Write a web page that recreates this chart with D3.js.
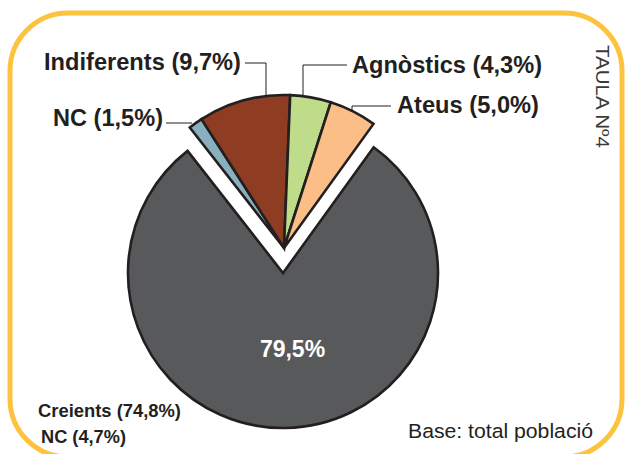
<!DOCTYPE html>
<html><head><meta charset="utf-8">
<script src="https://cdn.jsdelivr.net/npm/d3@7"></script>
<style>body{margin:0;background:#fff}svg{display:block}text{font-family:"Liberation Sans",Arial,Helvetica,sans-serif}</style>
</head><body><svg id="c" width="625" height="454"></svg>
<script>
const categories = ["NC", "Indiferents", "Agnòstics", "Ateus", "Creients"];
const values = [1.5, 9.7, 4.3, 5.0, 79.5];
const labels = ["NC (1,5%)", "Indiferents (9,7%)", "Agnòstics (4,3%)", "Ateus (5,0%)", "79,5%"];
const colors = ["#8aafbf", "#8e3c22", "#bfdc8a", "#fbbe87", "#58595b"];
const subLabels = ["Creients (74,8%)", "NC (4,7%)"];
const baseNote = "Base: total població";
const tableTag = "TAULA Nº4";

const svg = d3.select("#c");
const W = 625, H = 454;
const ink = "#231f20";

// frame
svg.append("rect").attr("x", 10).attr("y", 13).attr("width", 612).attr("height", 444)
  .attr("rx", 58).attr("ry", 58).attr("fill", "none").attr("stroke", "#fdc33f").attr("stroke-width", 5);

const start = -38 * Math.PI / 180;
const pie = d3.pie().sort(null).value(d => d).startAngle(start).endAngle(start + 2 * Math.PI);
const arcsData = pie(values);
const smallC = [284, 248], bigC = [283, 273];
const rSmall = 153, rBig = 155;
const arcS = d3.arc().innerRadius(0).outerRadius(rSmall);
const arcB = d3.arc().innerRadius(0).outerRadius(rBig);

arcsData.forEach((d, i) => {
  const big = i === 4;
  const c = big ? bigC : smallC;
  svg.append("path").attr("transform", `translate(${c[0]},${c[1]})`)
    .attr("d", (big ? arcB : arcS)(d)).attr("fill", colors[i])
    .attr("stroke", ink).attr("stroke-width", 2.6).attr("stroke-linejoin", "miter");
});

// big label
const cen = arcB.centroid(arcsData[4]);
svg.append("text").attr("x", bigC[0] + cen[0] + 8).attr("y", bigC[1] + cen[1] + 7)
  .attr("text-anchor", "middle").attr("font-weight", "bold").attr("font-size", 23)
  .attr("fill", "#fff").text(labels[4]);

// leaders
function arcY(x) { return smallC[1] - Math.sqrt(rSmall * rSmall - (x - smallC[0]) ** 2); }
const leaders = [
  [[166, 123], [192, 123]],
  [[245, 63], [266, 63], [266, arcY(266)]],
  [[347, 65], [303, 65], [303, arcY(303)]],
  [[391, 106], [352, 106], [352, arcY(352)]]
];
leaders.forEach(p => svg.append("path").attr("d", d3.line()(p)).attr("fill", "none")
  .attr("stroke", ink).attr("stroke-width", 1));

const labelPos = [
  {x: 53, y: 126, w: 110, s: 23},
  {x: 44, y: 70, w: 197, s: 23},
  {x: 352, y: 73, w: 190, s: 23},
  {x: 397, y: 113, w: 142, s: 23}
];
labelPos.forEach((p, i) => svg.append("text").attr("x", p.x).attr("y", p.y)
  .attr("font-weight", "bold").attr("font-size", p.s).attr("fill", ink)
  .attr("textLength", p.w).attr("lengthAdjust", "spacingAndGlyphs").text(labels[i]));

svg.append("text").attr("x", 38).attr("y", 417).attr("font-weight", "bold").attr("font-size", 18.5)
  .attr("fill", ink).attr("textLength", 143).attr("lengthAdjust", "spacingAndGlyphs").text(subLabels[0]);
svg.append("text").attr("x", 41).attr("y", 443).attr("font-weight", "bold").attr("font-size", 18.5)
  .attr("fill", ink).attr("textLength", 85).attr("lengthAdjust", "spacingAndGlyphs").text(subLabels[1]);

svg.append("text").attr("x", 408).attr("y", 438).attr("font-size", 20.5)
  .attr("fill", ink).attr("textLength", 185).attr("lengthAdjust", "spacingAndGlyphs").text(baseNote);

svg.append("text").attr("transform", "translate(596,45) rotate(90)").attr("font-size", 18)
  .attr("fill", "#3a3a3a").attr("textLength", 103).attr("lengthAdjust", "spacingAndGlyphs").text(tableTag);
</script></body></html>
